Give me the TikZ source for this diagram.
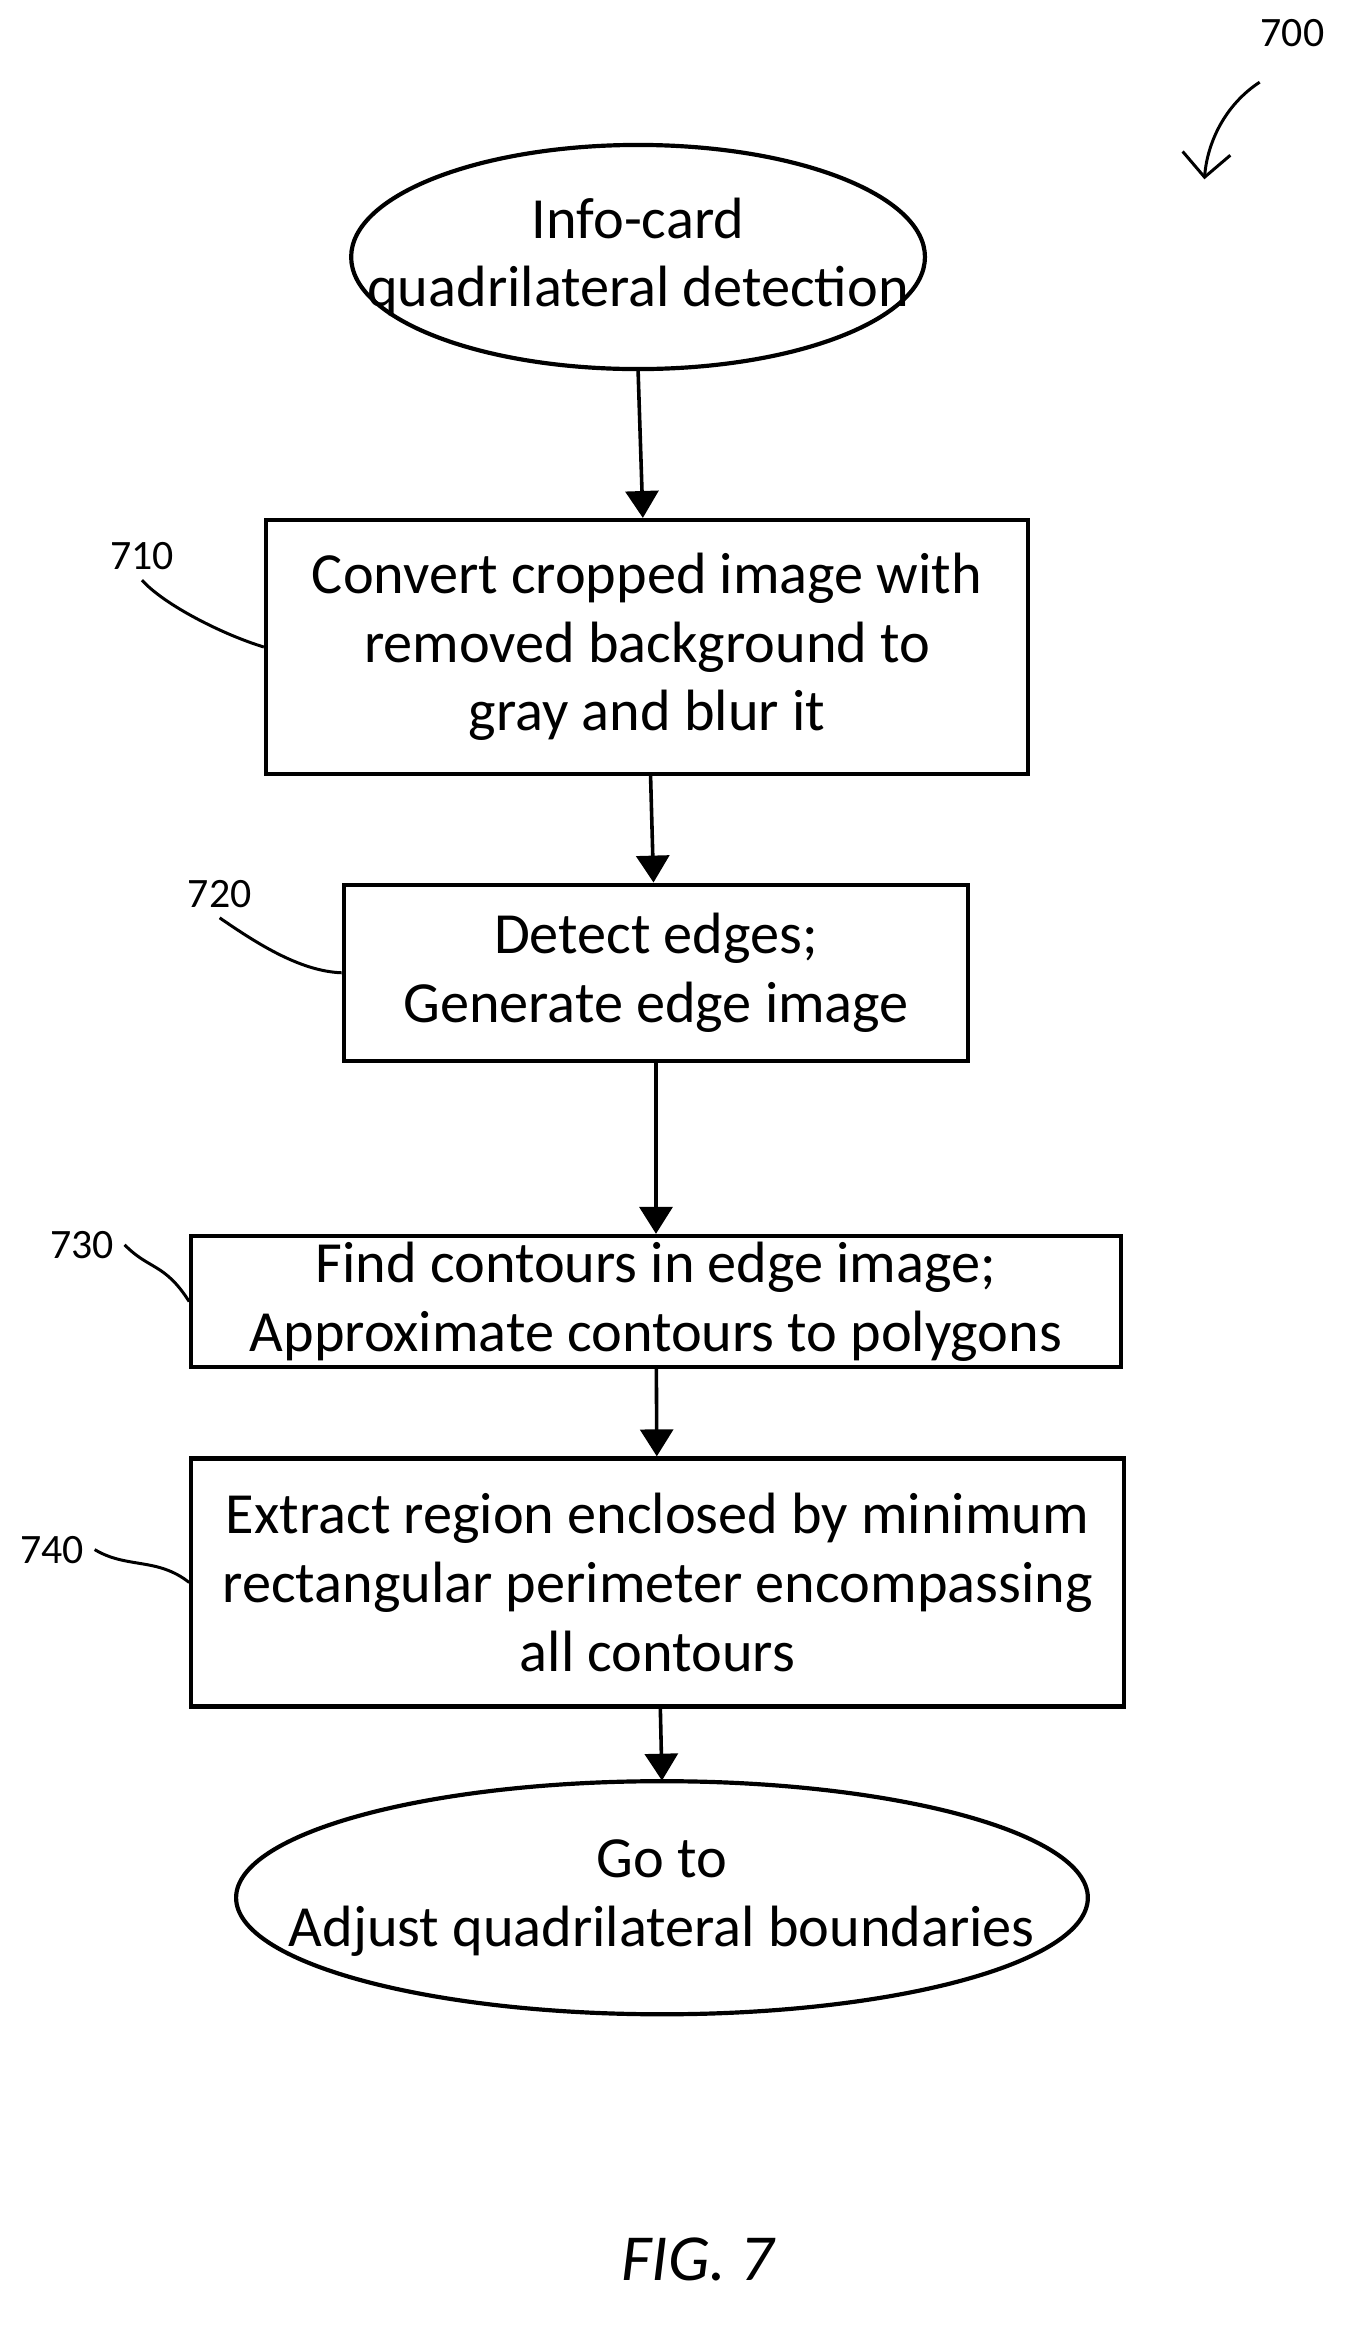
\documentclass[tikz,border=0pt]{standalone}
\usepackage{fontspec}
\setmainfont{Carlito}
\usetikzlibrary{arrows.meta,positioning,shapes.geometric}
\tikzset{
  procbox/.style={draw,line width=1.4pt,align=center,inner sep=2pt,font=\fontsize{19.5}{23}\selectfont},
  term/.style={align=center,inner sep=0pt,font=\fontsize{19.5}{23}\selectfont},
  flow/.style={line width=1.2pt,-{Triangle[length=9pt,width=11pt]}},
  tag/.style={font=\fontsize{14}{16}\selectfont},
  lead/.style={line width=1pt}
}
\begin{document}
\begin{tikzpicture}[x=0.5pt,y=-0.5pt]
  \useasboundingbox (0,0) rectangle (905,1572);

  % start / end
  \node[term,minimum width=192pt,minimum height=75pt] (start) at (427,172)
    {Info-card\\quadrilateral detection};
  \draw[line width=1.4pt] (start.center) ellipse [x radius=96pt,y radius=37.5pt];
  \node[term,minimum width=285pt,minimum height=78pt] (finish) at (443,1270)
    {Go to\\Adjust quadrilateral boundaries};
  \draw[line width=1.4pt] (finish.center) ellipse [x radius=142.5pt,y radius=39pt];

  % steps
  \node[procbox,minimum width=255,minimum height=85] (convert) at (433,433)
    {Convert cropped image with\\removed background to\\gray and blur it};
  \node[procbox,minimum width=209,minimum height=59] (detect) at (439,651)
    {Detect edges;\\Generate edge image};
  \node[procbox,minimum width=311,minimum height=32] (contours) at (439,871)
    {Find contours in edge image;\\Approximate contours to polygons};
  \node[procbox,minimum width=312,minimum height=83] (extract) at (440,1059)
    {Extract region enclosed by minimum\\rectangular perimeter encompassing\\all contours};

  % connectors
  \draw[flow] (start.south) -- (convert);
  \draw[flow] (convert) -- (detect);
  \draw[flow] (detect) -- (contours);
  \draw[flow] (contours) -- (extract);
  \draw[flow] (extract) -- (finish.north);

  % reference numerals
  \node[tag] (n700) at (865,22) {700};
  \draw[lead,-{Straight Barb[length=8pt]}] (843,55) .. controls (820,70) and (808,95) .. (806,120);
  \node[tag] (n710) at (95,372) {710};
  \draw[lead] (n710.south) .. controls (110,405) and (150,425) .. (convert.west);
  \node[tag] (n720) at (147,598) {720};
  \draw[lead] (n720.south) .. controls (170,630) and (200,650) .. (detect.west);
  \node[tag] (n730) at (55,833) {730};
  \draw[lead] (n730.east) .. controls (100,850) and (110,845) .. (contours.west);
  \node[tag] (n740) at (35,1037) {740};
  \draw[lead] (n740.east) .. controls (85,1050) and (105,1042) .. (extract.west);

  \node[font=\fontsize{22}{26}\selectfont\itshape] (fig) at (467,1512) {FIG. 7};
\end{tikzpicture}
\end{document}
